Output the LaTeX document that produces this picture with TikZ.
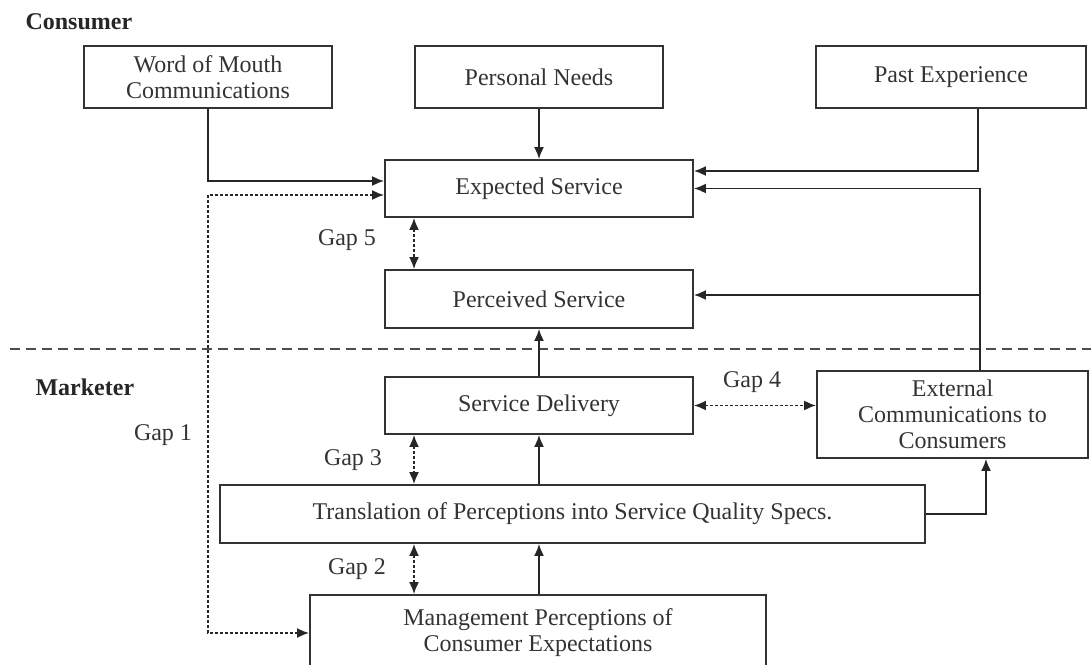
\documentclass[tikz,border=0pt]{standalone}
\usepackage{fontspec}
\setmainfont{Liberation Serif}
\usetikzlibrary{arrows,arrows.meta}

\begin{document}
\begin{tikzpicture}[x=0.5pt,y=-0.5pt,>={Latex[length=6pt,width=5pt]},line width=0.9pt,
        every node/.style={font=\fontsize{12}{13}\selectfont,text=black!80},
        main box/.style={draw=black!80,rectangle,align=center,inner sep=0pt},
        flow/.style={->,draw=black!85},
        gap/.style={<->,draw=black!85,dash pattern=on 1.5pt off 1pt},
        side label/.style={font=\fontsize{12}{13}\selectfont\bfseries,anchor=west,text=black!85}]

        \useasboundingbox (0,0) rectangle (1091,664);

        % consumer half
        \node[side label] (consumer) at (18,22) {Consumer};
        \node[main box,minimum width=124pt,minimum height=31pt] (wom) at (208,77) {Word of Mouth\\Communications};
        \node[main box,minimum width=124pt,minimum height=31pt] (needs) at (539,77) {Personal Needs};
        \node[main box,minimum width=135pt,minimum height=31pt] (past) at (951,77) {Past Experience};
        \node[main box,minimum width=154pt,minimum height=28.5pt] (expected) at (539,188.5) {Expected Service};
        \node[main box,minimum width=154pt,minimum height=29pt] (perceived) at (539,299) {Perceived Service};

        \draw[black!70,dash pattern=on 5pt off 3pt] (10,349) -- (1091,349);

        % marketer half
        \node[side label] (marketer) at (28,387) {Marketer};
        \node[main box,minimum width=154pt,minimum height=28.5pt] (delivery) at (539,405.5) {Service Delivery};
        \node[main box,minimum width=135.5pt,minimum height=43.5pt] (external) at (952.5,414.5) {External\\Communications to\\Consumers};
        \node[main box,minimum width=352.5pt,minimum height=29pt] (specs) at (572.5,514) {Translation of Perceptions into Service Quality Specs.};
        \node[main box,minimum width=228pt,minimum height=38pt] (mgmt) at (538,633) {Management Perceptions of\\Consumer Expectations};

        \coordinate (gapx) at (414,0);
        \coordinate (gapone) at (208,633);

        % solid flows
        \draw[flow] (wom.south) |- ([yshift=3.75pt]expected.west);
        \draw[flow] (needs.south) -- (expected.north);
        \draw[flow] ([xshift=13.5pt]past.south) |- ([yshift=8.75pt]expected.east);
        \draw[flow] ([xshift=13.75pt]external.north) |- (expected.east);
        \draw[flow] ([xshift=13.75pt]external.north) |- ([yshift=2pt]perceived.east);
        \draw[flow] (delivery.north) -- (perceived.south);
        \draw[flow] (delivery.south |- specs.north) -- (delivery.south);
        \draw[flow] (delivery.south |- mgmt.north) -- (delivery.south |- specs.south);
        \draw[flow] (specs.east) -| ([xshift=16.75pt]external.south);

        % gaps
        \draw[gap] ([yshift=-3.25pt]expected.west) -| (gapone) -- (mgmt.west);
        \draw[gap] (gapx |- expected.south) -- (gapx |- perceived.north);
        \draw[gap] (gapx |- delivery.south) -- (gapx |- specs.north);
        \draw[gap] (gapx |- specs.south) -- (gapx |- mgmt.north);
        \draw[gap] (delivery.east) -- (delivery.east -| external.west);

        \node (gap1) at (163,435) {Gap 1};
        \node (gap2) at (357,569) {Gap 2};
        \node (gap3) at (353,460) {Gap 3};
        \node (gap4) at (752,382) {Gap 4};
        \node (gap5) at (347,240) {Gap 5};
      \end{tikzpicture}
\end{document}
